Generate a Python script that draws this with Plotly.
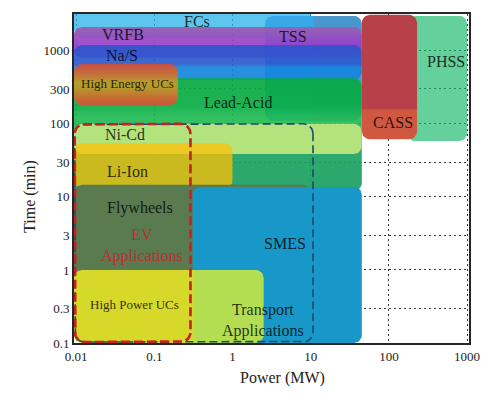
import numpy as np
import plotly.graph_objects as go

# ---------------- data ----------------
techs = ["FCs", "TSS", "VRFB", "Na/S", "Lead-Acid", "High Energy UCs", "Ni-Cd",
         "Li-Ion", "Flywheels", "SMES", "High Power UCs", "PHSS", "CASS"]
power_min = [0.0094, 2.6, 0.0094, 0.0094, 0.0094, 0.0094, 0.0094, 0.0094, 0.0094, 0.31, 0.0094, 170, 45]
power_max = [10, 45, 45, 45, 45, 0.2, 45, 1.0, 10, 45, 2.5, 1000, 229]
time_min = [1500, 110, 800, 400, 12, 180, 38.5, 13, 0.3, 0.1, 0.1, 58, 61.5]
time_max = [4000, 3000, 2120, 1200, 420, 660, 100, 54, 14.6, 13.7, 1.0, 3000, 3100]

apps = ["Transport Applications", "EV Applications"]
app_power_min = [0.0096, 0.0096]
app_power_max = [10.7, 0.29]
app_time_min = [0.103, 0.103]
app_time_max = [100, 100]

label_text = ["FCs", "VRFB", "Na/S", "High Energy UCs", "Lead-Acid", "TSS", "CASS", "PHSS",
              "Ni-Cd", "Li-Ion", "Flywheels", "EV<br>Applications", "SMES", "High Power UCs",
              "Transport<br>Applications"]
label_power = [0.35, 0.040, 0.0386, 0.0448, 1.175, 5.94, 113, 537,
               0.042, 0.046, 0.0656, 0.0697, 4.69, 0.0566, 2.46]
label_time = [2480, 1650, 855, 356, 196, 1550, 105, 709,
              72, 22.6, 7.1, 2.15, 2.3, 0.34, 0.206]

x_ticks = [0.01, 0.1, 1, 10, 100, 1000]
x_tick_text = ["0.01", "0.1", "1", "10", "100", "1000"]
y_ticks = [0.1, 0.3, 1, 3, 10, 30, 100, 300, 1000]
y_tick_text = ["0.1", "0.3", "1", "3", "10", "30", "100", "300", "1000"]

# ---------------- layout geometry ----------------
OFF = 8  # default page body margin
W, H = 497 - OFF, 397 - OFF
M = dict(l=66, r=28, t=4, b=54)
XR = [-2.027, 3.024]
YR = [-1.0, 3.503]
PW, PH = W - M["l"] - M["r"], H - M["t"] - M["b"]
XPX = PW / (XR[1] - XR[0])
YPX = PH / (YR[1] - YR[0])
FONT = "Liberation Serif"


def rrect(p0, p1, t0, t1, r_px, n=10):
    lx0, lx1, ly0, ly1 = np.log10(p0), np.log10(p1), np.log10(t0), np.log10(t1)
    rx = min(r_px / XPX, (lx1 - lx0) / 2)
    ry = min(r_px / YPX, (ly1 - ly0) / 2)
    cs = [(lx1 - rx, ly1 - ry, 0), (lx0 + rx, ly1 - ry, 90),
          (lx0 + rx, ly0 + ry, 180), (lx1 - rx, ly0 + ry, 270)]
    xs, ys = [], []
    for cx, cy, a0 in cs:
        ang = np.radians(np.linspace(a0, a0 + 90, n))
        xs.extend(cx + rx * np.cos(ang))
        ys.extend(cy + ry * np.sin(ang))
    xs.append(xs[0]); ys.append(ys[0])
    return 10 ** np.array(xs), 10 ** np.array(ys)


def over_white(rgb, a):
    return tuple(max(0, min(255, round((c - 255 * (1 - a)) / a))) for c in rgb)


def rgb_s(c):
    return "rgb(%d,%d,%d)" % c


styles = {
    "FCs": dict(fill=(94, 198, 238), alpha=0.75),
    "TSS": dict(hgrad=[(0, (56, 168, 232)), (0.49, (56, 168, 232)), (0.51, (74, 150, 205)), (1, (74, 150, 205))]),
    "VRFB": dict(vgrad=[(0, (162, 108, 180)), (0.5, (160, 80, 205)), (1, (160, 66, 222))], alpha=0.92),
    "Na/S": dict(vgrad=[(0, (64, 98, 208)), (0.55, (62, 104, 210)), (0.63, (40, 142, 224)), (1, (40, 142, 224))], alpha=0.92),
    "Lead-Acid": dict(vgrad=[(0, (26, 176, 80)), (0.25, (30, 180, 84)), (0.35, (52, 192, 98)), (0.45, (50, 190, 100)),
                             (0.62, (44, 170, 108)), (1, (44, 166, 110))], alpha=0.92),
    "High Energy UCs": dict(vgrad=[(0, (196, 78, 72)), (0.3, (196, 120, 56)), (0.45, (180, 160, 40)),
                                   (0.6, (182, 150, 44)), (0.8, (200, 110, 52)), (1, (198, 88, 58))]),
    "Ni-Cd": dict(fill=(180, 226, 124)),
    "Li-Ion": dict(rgba=(255, 192, 5, 0.75)),
    "Flywheels": dict(fill=(90, 122, 80)),
    "SMES": dict(fill=(24, 152, 200)),
    "High Power UCs": dict(hgrad=[(0, (214, 216, 42)), (0.62, (214, 216, 42)), (0.64, (180, 222, 82)), (1, (180, 222, 82))]),
    "PHSS": dict(fill=(100, 208, 156), alpha=0.65),
    "CASS": dict(vgrad=[(0, (184, 64, 72)), (0.75, (184, 64, 72)), (0.77, (208, 88, 64)), (1, (208, 88, 64))]),
}

fig = go.Figure()

for name, p0, p1, t0, t1 in zip(techs, power_min, power_max, time_min, time_max):
    st = styles[name]
    xs, ys = rrect(p0, p1, t0, t1, 8)
    a = st.get("alpha", 1.0)
    kw = dict(x=xs, y=ys, mode="lines", fill="toself", line=dict(width=0),
              hoverinfo="skip", showlegend=False, name=name)
    if "fill" in st:
        c = over_white(st["fill"], a)
        kw["fillcolor"] = "rgba(%d,%d,%d,%.2f)" % (c + (a,))
    elif "rgba" in st:
        kw["fillcolor"] = "rgba(%d,%d,%d,%.2f)" % st["rgba"]
    elif "vgrad" in st:
        cs = sorted([(1 - f, rgb_s(over_white(c, a))) for f, c in st["vgrad"]])
        kw["fillgradient"] = dict(type="vertical", colorscale=[[f, c] for f, c in cs])
        kw["opacity"] = a
        kw["fillcolor"] = rgb_s(st["vgrad"][0][1])
    elif "hgrad" in st:
        kw["fillgradient"] = dict(type="horizontal", colorscale=[[f, rgb_s(c)] for f, c in st["hgrad"]])
        kw["fillcolor"] = rgb_s(st["hgrad"][0][1])
    fig.add_trace(go.Scatter(**kw))

app_styles = {
    "Transport Applications": dict(color="#1d4a68", width=1.6, dash="8px,4px"),
    "EV Applications": dict(color="#c42222", width=2.6, dash="9px,4px"),
}
for name, p0, p1, t0, t1 in zip(apps, app_power_min, app_power_max, app_time_min, app_time_max):
    xs, ys = rrect(p0, p1, t0, t1, 10)
    fig.add_trace(go.Scatter(x=xs, y=ys, mode="lines", line=app_styles[name],
                             hoverinfo="skip", showlegend=False, name=name))

label_font = {"High Energy UCs": 13, "High Power UCs": 13}
for txt, p, t in zip(label_text, label_power, label_time):
    is_ev = txt.startswith("EV")
    fig.add_annotation(x=np.log10(p), y=np.log10(t), xref="x", yref="y", text=txt,
                       showarrow=False, xanchor="center", yanchor="middle",
                       font=dict(family=FONT, size=label_font.get(txt, 16),
                                 color="#b83030" if is_ev else "rgba(0,0,0,0.8)"))


def paper_x(px):
    return (px - OFF - M["l"]) / PW


def paper_y(py):
    return (M["t"] + PH - (py - OFF)) / PH


fig.add_annotation(x=paper_x(282), y=paper_y(378), xref="paper", yref="paper",
                   text="Power (MW)", showarrow=False, xanchor="center", yanchor="middle",
                   font=dict(family=FONT, size=16, color="#222"))
fig.add_annotation(x=paper_x(30), y=paper_y(196), xref="paper", yref="paper",
                   text="Time (min)", showarrow=False, xanchor="center", yanchor="middle", textangle=-90,
                   font=dict(family=FONT, size=16, color="#222"))

axis_common = dict(type="log", showline=True, mirror=True, linecolor="#262626", linewidth=2,
                   showgrid=True, gridcolor="#3a3a3a", gridwidth=1, griddash="1.5px,3.5px",
                   zeroline=False, ticks="", tickfont=dict(family=FONT, size=13, color="#222"))
fig.update_xaxes(range=XR, tickvals=x_ticks, ticktext=x_tick_text, **axis_common)
fig.update_yaxes(range=YR, tickvals=y_ticks, ticktext=y_tick_text, **axis_common)

fig.update_layout(width=W, height=H, margin=M, plot_bgcolor="white", paper_bgcolor="white",
                  showlegend=False)

fig.write_html("out.html")
